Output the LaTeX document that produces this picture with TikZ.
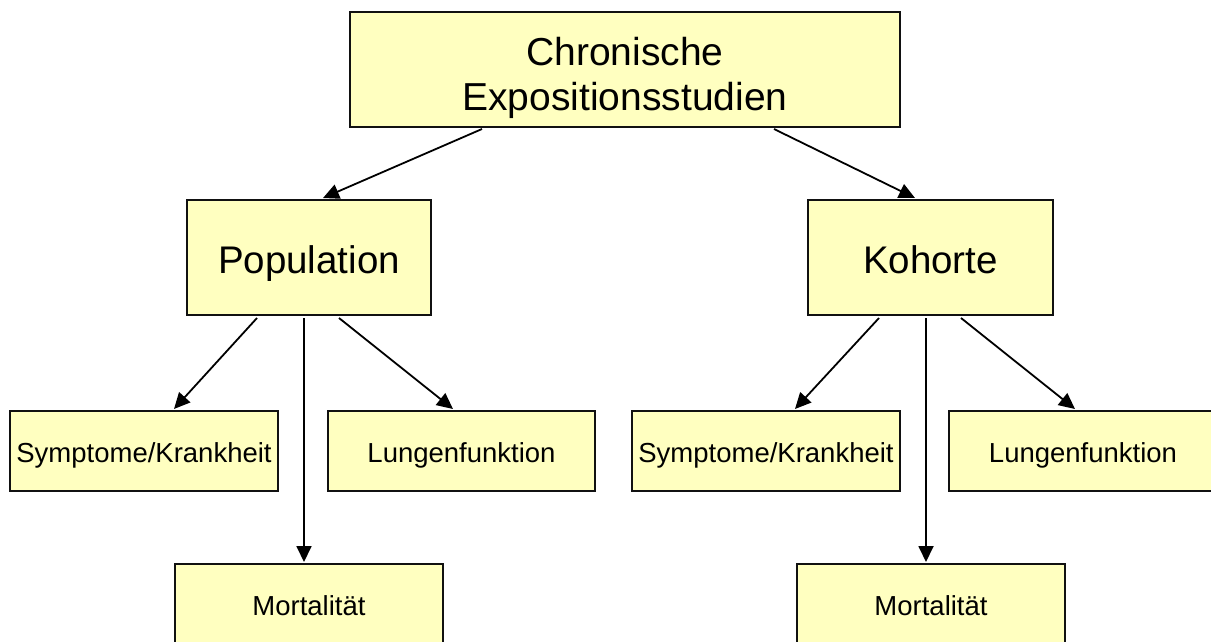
\documentclass[tikz,border=0pt]{standalone}
\usepackage{fontspec}
\setmainfont{Liberation Sans}
\usetikzlibrary{arrows.meta,calc}
\definecolor{boxfill}{HTML}{FFFFC0}
\definecolor{boxline}{HTML}{111111}
\tikzset{
  box/.style={draw=boxline, line width=2pt, fill=boxfill, inner sep=0pt, align=center, text=black},
  bigbox/.style={box, font=\fontsize{38.5}{45}\selectfont, text height=31pt, text depth=0pt},
  topbox/.style={box, font=\fontsize{39}{45}\selectfont},
  smallbox/.style={box, minimum width=268pt, minimum height=80pt, font=\fontsize{27.5}{32}\selectfont, text height=22pt, text depth=0pt},
  arr/.style={line width=1.8pt, draw=black, -{Triangle[length=16pt,width=15pt]}}
}
\begin{document}
\begin{tikzpicture}[x=1pt,y=-1pt]
\clip (0,0) rectangle (1211,641);
\fill[white] (0,0) rectangle (1211,641);
\node[topbox, minimum width=550pt, minimum height=115pt] (top) at (625,69.5) {\raisebox{-15.75pt}[0pt][0pt]{\begin{tabular}{@{}c@{}}Chronische\\Expositionsstudien\end{tabular}}};
\node[bigbox, minimum width=244pt, minimum height=115pt] (pop) at (309,257.5) {Population};
\node[bigbox, minimum width=245pt, minimum height=115pt] (koh) at (930.5,257.5) {Kohorte};
\node[smallbox] (symL) at (144,451) {Symptome/Krankheit};
\node[smallbox, minimum width=267pt] (lunL) at (461.5,451) {Lungenfunktion};
\node[smallbox] (morL) at (309,604) {Mortalität};
\node[smallbox] (symR) at (766,451) {Symptome/Krankheit};
\node[smallbox] (lunR) at (1083,451) {Lungenfunktion};
\node[smallbox] (morR) at (931,604) {Mortalität};
% top arrows
\draw[arr] ($(top.south)+(-143,1)$) -- ($(pop.north)+(14,-1)$);
\draw[arr] ($(top.south)+(149,1)$) -- ($(koh.north)+(-15.5,-1)$);
% population arrows
\draw[arr] ($(pop.south)+(-52,2)$) -- ($(symL.north)+(30,-1)$);
\draw[arr] ($(pop.south)+(-5,2)$) -- ($(morL.north)+(-5,-1)$);
\draw[arr] ($(pop.south)+(30,2)$) -- ($(lunL.north)+(-8.5,-1)$);
% kohorte arrows
\draw[arr] ($(koh.south)+(-51.5,2)$) -- ($(symR.north)+(29,-1)$);
\draw[arr] ($(koh.south)+(-4.5,2)$) -- ($(morR.north)+(-5,-1)$);
\draw[arr] ($(koh.south)+(30.5,2)$) -- ($(lunR.north)+(-8,-1)$);
\end{tikzpicture}
\end{document}
